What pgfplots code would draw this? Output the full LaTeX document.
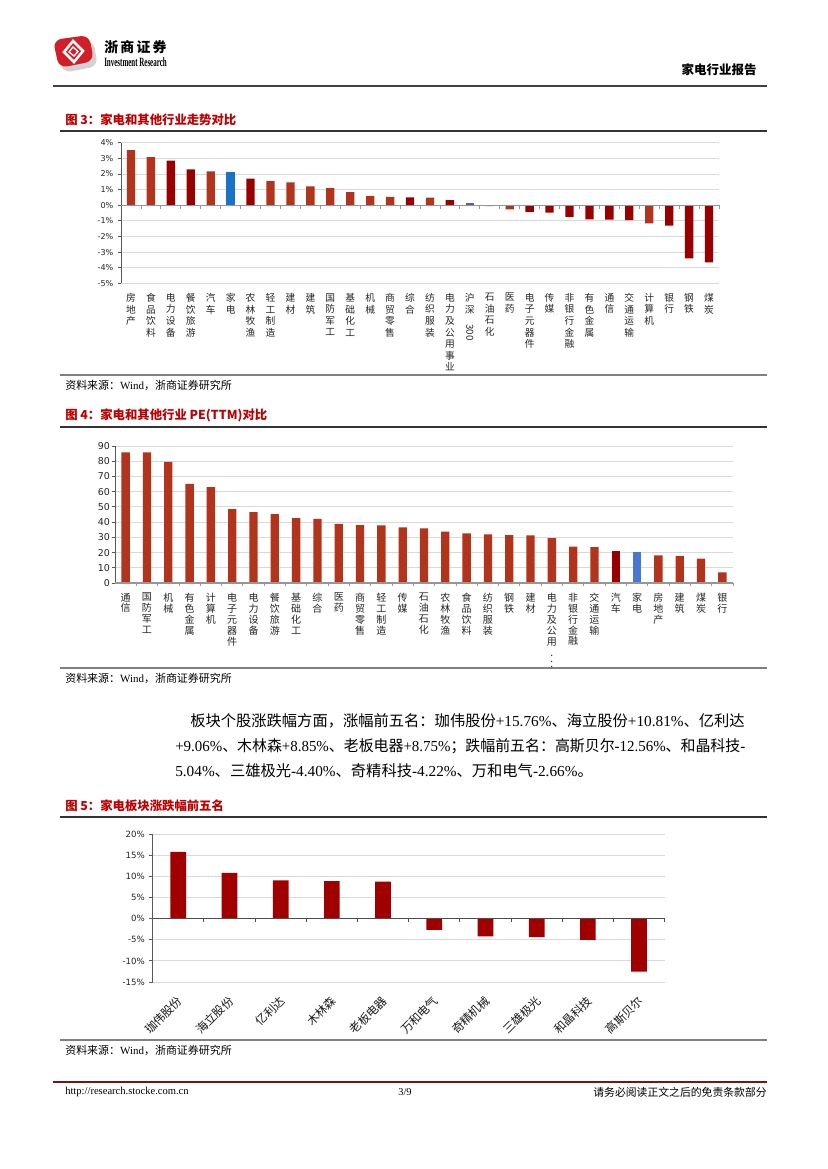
\documentclass[border=0pt]{standalone}
\usepackage{fontspec}
\usepackage{graphicx}
\usepackage{pgfplots}
\pgfplotsset{compat=1.18}
\setmainfont{Liberation Serif}
\newfontfamily\cjk{Noto Sans CJK SC}
\newfontfamily\dv{DejaVu Sans}

\definecolor{brick}{RGB}{178,52,28}
\definecolor{dkred}{RGB}{153,0,0}
\definecolor{blueA}{RGB}{25,115,200}
\definecolor{blueB}{RGB}{70,120,210}
\definecolor{purp}{RGB}{112,80,160}
\definecolor{redC}{RGB}{160,0,0}
\definecolor{gridgray}{RGB}{217,217,217}
\definecolor{axgray}{RGB}{150,150,150}
\definecolor{titlered}{RGB}{192,0,0}
\definecolor{logored}{RGB}{210,30,40}
\definecolor{footred}{RGB}{120,20,20}

\pgfplotsset{
  pagebar/.style={
    scale only axis, anchor=south west, clip=false,
    axis y line*=left, axis x line*=bottom,
    x axis line style={draw=none},
    y axis line style={-, draw=black!65, line width=0.7pt},
    ymajorgrids, grid style={draw=gridgray, line width=0.7pt},
    xtick style={draw=none},
    ytick style={draw=black!65, line width=0.6pt},
    tick align=outside, major tick length=2.5pt,
    yticklabel style={text=black!85, inner sep=1pt},
  },
}

\begin{document}
\begin{tikzpicture}
\begin{scope}[x=0.72pt, y=-0.72pt]
\path[use as bounding box, fill=white] (0,0) rectangle (827,1169);

% header
\fill[gray!35, rounded corners=6pt] (57,44) -- (93,40) -- (98,66) -- (63,73) -- cycle;
\fill[logored, rounded corners=6pt] (53,40) -- (89,35) -- (94,61) -- (59,68) -- cycle;
\draw[white, line width=1.8pt] (73,41) -- (83,51) -- (74,62) -- (64,52) -- cycle;
\draw[white, line width=1pt] (73,47) -- (78,51.5) -- (74,56) -- (69,52) -- cycle;
\node[anchor=west, inner sep=0pt] at (104,47)
  {\cjk\bfseries\fontsize{10}{10}\selectfont 浙\hspace{1.6pt}商\hspace{1.6pt}证\hspace{1.6pt}券};
\node[anchor=west, inner sep=0pt] at (104,62.5)
  {\resizebox{45pt}{6.3pt}{\bfseries\fontsize{10}{10}\selectfont Investment Research}};
\node[anchor=east, inner sep=0pt] at (757,70)
  {\cjk\bfseries\fontsize{9}{9}\selectfont 家电行业报告};
\draw[black!75, line width=1.1pt] (53,86) -- (767,86);

% figure titles and frame lines
\tikzset{ftitle/.style={anchor=west, inner sep=0pt, text=titlered,
  font=\cjk\bfseries\fontsize{8.9}{10}\selectfont},
  fsrc/.style={anchor=west, inner sep=0pt, font=\fontsize{7.9}{8}\selectfont}}
\node[ftitle] at (65,120) {图 3：家电和其他行业走势对比};
\draw[black!80, line width=1.1pt] (60,131) -- (767,131);
\draw[black!50, line width=1.2pt] (60,375) -- (767,375);
\node[fsrc] at (65,385) {{\cjk 资料来源：}Wind{\cjk ，浙商证券研究所}};

\node[ftitle] at (65,415) {图 4：家电和其他行业 PE(TTM)对比};
\draw[black!80, line width=1.1pt] (60,427) -- (767,427);
\draw[black!50, line width=1.2pt] (60,668) -- (767,668);
\node[fsrc] at (65,678) {{\cjk 资料来源：}Wind{\cjk ，浙商证券研究所}};

% body text
\tikzset{body/.style={anchor=west, inner sep=0pt, font=\fontsize{11}{12}\selectfont}}
\node[body] at (190,721) {{\cjk 板块个股涨跌幅方面，涨幅前五名：珈伟股份}+15.76\%{\cjk 、海立股份}+10.81\%{\cjk 、亿利达}};
\node[body] at (175,746) {\scalebox{0.977}[1]{+9.06\%{\cjk 、木林森}+8.85\%{\cjk 、老板电器}+8.75\%{\cjk ；跌幅前五名：高斯贝尔}-12.56\%{\cjk 、和晶科技}-}};
\node[body] at (175,771) {5.04\%{\cjk 、三雄极光}-4.40\%{\cjk 、奇精科技}-4.22\%{\cjk 、万和电气}-2.66\%{\cjk 。}};

\node[ftitle] at (65,806) {图 5：家电板块涨跌幅前五名};
\draw[black!80, line width=1.1pt] (60,817) -- (767,817);
\draw[black!50, line width=1.2pt] (60,1040) -- (767,1040);
\node[fsrc] at (65,1050) {{\cjk 资料来源：}Wind{\cjk ，浙商证券研究所}};

% footer
\draw[footred, line width=0.9pt] (53,1082) -- (767,1082);
\node[anchor=west, inner sep=0pt, font=\fontsize{7.6}{8}\selectfont] at (65,1092) {http://research.stocke.com.cn};
\node[inner sep=0pt, font=\fontsize{7.5}{8}\selectfont] at (405,1092) {3/9};
\node[anchor=east, inner sep=0pt, font=\cjk\fontsize{7.8}{8}\selectfont] at (767,1092) {请务必阅读正文之后的免责条款部分};
\end{scope}

% ---------- Figure 3 ----------
\begin{axis}[pagebar,
  at={(87.12pt,-203.98pt)}, width=430.56pt, height=101.2pt,
  xmin=-0.5, xmax=29.5, ymin=-5, ymax=4,
  ytick={-5,...,4},
  yticklabels={-5\%,-4\%,-3\%,-2\%,-1\%,0\%,1\%,2\%,3\%,4\%},
  yticklabel style={font=\dv\fontsize{5.8}{6}\selectfont, inner sep=2.8pt},
  xtick={0,...,29},
  xticklabels={{房\\地\\产},{食\\品\\饮\\料},{电\\力\\设\\备},{餐\\饮\\旅\\游},{汽\\车},{家\\电},{农\\林\\牧\\渔},{轻\\工\\制\\造},{建\\材},{建\\筑},{国\\防\\军\\工},{基\\础\\化\\工},{机\\械},{商\\贸\\零\\售},{综\\合},{纺\\织\\服\\装},{电\\力\\及\\公\\用\\事\\业},{沪\\深\\\rotatebox{-90}{300}},{石\\油\\石\\化},{医\\药},{电\\子\\元\\器\\件},{传\\媒},{非\\银\\行\\金\\融},{有\\色\\金\\属},{通\\信},{交\\通\\运\\输},{计\\算\\机},{银\\行},{钢\\铁},{煤\\炭}},
  xticklabel style={font=\cjk\fontsize{7}{8.3}\selectfont, text=black!85,
    align=center, anchor=north, inner sep=0pt, yshift=-4.5pt},
]
\addplot[ybar, bar width=6pt, fill=brick, draw=none] coordinates {
  (0,3.53) (1,3.08) (4,2.16) (7,1.54) (8,1.46) (9,1.20) (10,1.09)
  (11,0.84) (12,0.60) (13,0.54) (15,0.49) (18,-0.06) (19,-0.26) (26,-1.16)};
\addplot[ybar, bar width=6pt, fill=dkred, draw=none] coordinates {
  (2,2.85) (3,2.29) (6,1.71) (14,0.51) (16,0.32) (20,-0.43) (21,-0.47)
  (22,-0.75) (23,-0.90) (24,-0.92) (25,-0.96) (27,-1.31) (28,-3.40) (29,-3.66)};
\addplot[ybar, bar width=6pt, fill=blueA, draw=none] coordinates {(5,2.10)};
\addplot[ybar, bar width=6pt, fill=purp, draw=none] coordinates {(17,0.17)};
\draw[axgray, line width=1pt] (axis cs:-0.5,0) -- (axis cs:29.5,0);
\pgfplotsinvokeforeach{0.5,1.5,...,29.5}{
  \draw[axgray, line width=0.6pt] (axis cs:#1,0) -- ([yshift=-2.5pt]axis cs:#1,0);}
\end{axis}

% ---------- Figure 4 ----------
\begin{axis}[pagebar,
  at={(82.8pt,-419.76pt)}, width=444.96pt, height=98.64pt,
  xmin=-0.5, xmax=28.5, ymin=0, ymax=90,
  ytick={0,10,...,90},
  yticklabels={0,10,20,30,40,50,60,70,80,90},
  yticklabel style={font=\dv\fontsize{6.8}{7}\selectfont},
  xtick={0,...,28},
  xticklabels={{通\\信},{国\\防\\军\\工},{机\\械},{有\\色\\金\\属},{计\\算\\机},{电\\子\\元\\器\\件},{电\\力\\设\\备},{餐\\饮\\旅\\游},{基\\础\\化\\工},{综\\合},{医\\药},{商\\贸\\零\\售},{轻\\工\\制\\造},{传\\媒},{石\\油\\石\\化},{农\\林\\牧\\渔},{食\\品\\饮\\料},{纺\\织\\服\\装},{钢\\铁},{建\\材},{电\\力\\及\\公\\用\\$\vdots$},{非\\银\\行\\金\\融},{交\\通\\运\\输},{汽\\车},{家\\电},{房\\地\\产},{建\\筑},{煤\\炭},{银\\行}},
  xticklabel style={font=\cjk\fontsize{7.2}{7.85}\selectfont, text=black!85,
    align=center, anchor=north, inner sep=0pt, yshift=-4.5pt},
]
\addplot[ybar, bar width=6pt, fill=brick, draw=none] coordinates {
  (0,85.8) (1,85.8) (2,79.6) (3,65.2) (4,63.0) (5,48.6) (6,46.6) (7,45.3)
  (8,42.7) (9,42.2) (10,38.9) (11,38.1) (12,37.9) (13,36.5) (14,35.9)
  (15,33.7) (16,32.6) (17,31.9) (18,31.5) (19,31.3) (20,29.5) (21,23.9)
  (22,23.6) (25,18.2) (26,17.9) (27,16.0) (28,7.0)};
\addplot[ybar, bar width=6pt, fill=dkred, draw=none] coordinates {(23,21.2)};
\addplot[ybar, bar width=6pt, fill=blueB, draw=none] coordinates {(24,20.6)};
\draw[axgray, line width=1pt] (axis cs:-0.5,0) -- (axis cs:28.5,0);
\pgfplotsinvokeforeach{0.5,1.5,...,28.5}{
  \draw[axgray, line width=0.6pt] (axis cs:#1,0) -- ([yshift=-2.5pt]axis cs:#1,0);}
\end{axis}

% ---------- Figure 5 ----------
\begin{axis}[pagebar,
  at={(109.94pt,-707.04pt)}, width=368.64pt, height=106.56pt,
  xmin=-0.5, xmax=9.5, ymin=-15, ymax=20,
  ytick={-15,-10,...,20},
  yticklabels={-15\%,-10\%,-5\%,0\%,5\%,10\%,15\%,20\%},
  yticklabel style={font=\dv\fontsize{6.2}{6.5}\selectfont, inner sep=3pt},
  xtick={0,...,9},
  xticklabels={珈伟股份,海立股份,亿利达,木林森,老板电器,万和电气,奇精机械,三雄极光,和晶科技,高斯贝尔},
  xticklabel style={font=\cjk\fontsize{8.4}{9}\selectfont, text=black!90,
    xshift=-1.5pt, yshift=-6.5pt, rotate=45, anchor=north east, inner sep=0pt},
]
\addplot[ybar, bar width=11.3pt, fill=redC, draw=none] coordinates {
  (0,15.76) (1,10.81) (2,9.06) (3,8.85) (4,8.75)
  (5,-2.66) (6,-4.22) (7,-4.40) (8,-5.04) (9,-12.56)};
\draw[black!70, line width=0.9pt] (axis cs:-0.5,0) -- (axis cs:9.5,0);
\pgfplotsinvokeforeach{0.5,1.5,...,9.5}{
  \draw[black!70, line width=0.6pt] (axis cs:#1,0) -- ([yshift=-2.5pt]axis cs:#1,0);}
\end{axis}
\end{tikzpicture}
\end{document}
